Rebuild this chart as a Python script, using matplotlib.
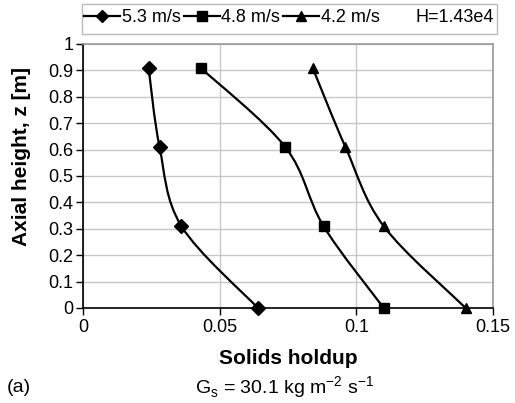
import matplotlib
matplotlib.use("Agg")
import matplotlib.pyplot as plt
from matplotlib.path import Path
from matplotlib.patches import PathPatch, Rectangle
from matplotlib.lines import Line2D

plt.rcParams['font.family'] = ['Liberation Sans', 'DejaVu Sans']

z = [0.0, 0.31, 0.61, 0.91]
holdup_53 = [0.064, 0.036, 0.028, 0.024]
holdup_48 = [0.110, 0.088, 0.074, 0.043]
holdup_42 = [0.140, 0.110, 0.096, 0.084]
labels = ['5.3 m/s', '4.8 m/s', '4.2 m/s']
markers = ['D', 's', '^']
msizes = [7, 7.5, 7.5]
xticks = [0, 0.05, 0.1, 0.15]
xticklabels = ['0', '0.05', '0.1', '0.15']
yticks = [0, 0.1, 0.2, 0.3, 0.4, 0.5, 0.6, 0.7, 0.8, 0.9, 1]
yticklabels = ['0', '0.1', '0.2', '0.3', '0.4', '0.5', '0.6', '0.7', '0.8', '0.9', '1']

W, H = 515, 403
fig = plt.figure(figsize=(W / 100, H / 100), dpi=100)
ax = fig.add_axes([83/W, 1-308/H, 410/W, 264/H])


def smooth_path(xs, ys):
    pts = list(zip(xs, ys))
    n = len(pts)
    verts = [pts[0]]
    codes = [Path.MOVETO]
    for i in range(n - 1):
        p0 = pts[i - 1] if i > 0 else pts[i]
        p1 = pts[i]
        p2 = pts[i + 1]
        p3 = pts[i + 2] if i + 2 < n else pts[i + 1]
        c1 = (p1[0] + (p2[0] - p0[0]) / 6, p1[1] + (p2[1] - p0[1]) / 6)
        c2 = (p2[0] - (p3[0] - p1[0]) / 6, p2[1] - (p3[1] - p1[1]) / 6)
        verts += [c1, c2, p2]
        codes += [Path.CURVE4] * 3
    return Path(verts, codes)


series = [holdup_53, holdup_48, holdup_42]
handles = []
for xs, lab, m, ms in zip(series, labels, markers, msizes):
    patch = PathPatch(smooth_path(xs, z), facecolor='none', edgecolor='black',
                      lw=1.6, zorder=3, clip_on=False)
    ax.add_patch(patch)
    ax.plot(xs, z, linestyle='none', marker=m, ms=ms, color='black', zorder=4, clip_on=False)
    handles.append(Line2D([], [], color='black', lw=1.6, marker=m, ms=ms - 1))

ax.set_xlim(0, 0.15)
ax.set_ylim(0, 1)
ax.set_xticks(xticks)
ax.set_xticklabels(xticklabels)
ax.set_yticks(yticks)
ax.set_yticklabels(yticklabels)
ax.tick_params(axis='both', labelsize=13, length=5, width=1, direction='out', colors='black')
ax.tick_params(axis='x', pad=3)
ax.tick_params(axis='y', pad=2)
ax.grid(True, color='#c8c8c8', lw=1)
ax.set_axisbelow(True)
for s in ['top', 'right']:
    ax.spines[s].set_color('#9a9a9a')
    ax.spines[s].set_linewidth(1.2)
for s in ['left', 'bottom']:
    ax.spines[s].set_color('black')
    ax.spines[s].set_linewidth(1.2)

ax.set_xlabel('Solids holdup', fontsize=15, fontweight='bold')
ax.set_ylabel('Axial height, z [m]', fontsize=15, fontweight='bold')
ax.xaxis.set_label_coords((288 - 83) / 410, -(358 - 308) / 264)
ax.yaxis.set_label_coords(-(83 - 22) / 410, (308 - 157) / 264)
ax.xaxis.label.set_va('center')
ax.yaxis.label.set_va('center')

# legend frame
fig.patches.append(Rectangle((82/W, 1-34/H), 415/W, 30/H, transform=fig.transFigure,
                             facecolor='white', edgecolor='#bbbbbb', lw=1))
fig.legend(handles, labels, loc='center left', bbox_to_anchor=(84/W, 1-18/H),
           ncol=3, frameon=False, fontsize=13, handlelength=2.0, handletextpad=0.1,
           columnspacing=0.15, borderpad=0, borderaxespad=0)
fig.text(494/W, 1-18/H, 'H=1.43e4', ha='right', va='center', fontsize=13)

fig.text(285/W, 1-388/H, r'G$_\mathregular{s}$ = 30.1 kg m$^\mathregular{-2}$ s$^\mathregular{-1}$',
         ha='center', va='center', fontsize=14)
fig.text(7/W, 1-388/H, '(a)', ha='left', va='center', fontsize=14)

fig.savefig('out.png', dpi=100)
